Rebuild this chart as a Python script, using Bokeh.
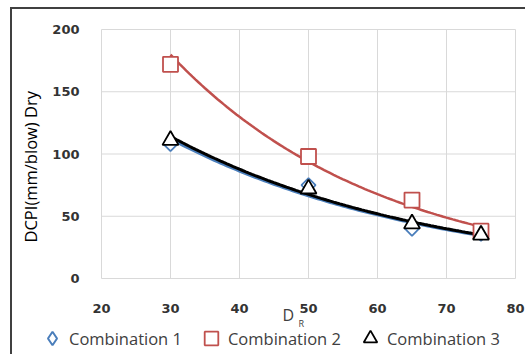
import numpy as np
from bokeh.plotting import figure
from bokeh.models import Legend, LegendItem, Label
from bokeh.core.properties import value
from bokeh.embed import file_html
from bokeh.resources import INLINE

# ---- data ----
dr = [30, 50, 65, 75]
comb1 = [108, 75, 40, 36]
comb2 = [172, 98, 63, 38]
comb3 = [111, 72, 44, 35]
x_ticks = [20, 30, 40, 50, 60, 70, 80]
y_ticks = [0, 50, 100, 150, 200]
x_tick_labels = [str(t) for t in x_ticks]
y_tick_labels = [str(t) for t in y_ticks]
series_names = ["Combination 1", "Combination 2", "Combination 3"]
x_title = "D"
x_title_sub = "R"
y_title = "DCPI(mm/blow) Dry"

BLUE = "#4a7ebb"
RED = "#c0504d"
BLACK = "#000000"
GRID = "#d9d9d9"
TXT = "#333333"

# ---- layout (pixels) ----
W, H = 515, 347            # canvas size
OX, OY = 12, 9             # canvas origin on the page (margin + border)
PL, PR, PT, PB = 101, 515, 29, 278   # plot-area edges on the page
XMIN, XMAX, YMIN, YMAX = 20, 80, 0, 200
kx = (PR - PL) / (XMAX - XMIN)
ky = (PB - PT) / (YMAX - YMIN)
x0 = XMIN - (PL - OX) / kx
x1 = XMAX + (OX + W - PR) / kx
y1 = YMAX + (PT - OY) / ky
y0 = YMIN - (OY + H - PB) / ky

def dx(px):
    return XMIN + (px - PL) / kx

def dy(py):
    return YMIN - (py - PB) / ky

p = figure(width=W, height=H, x_range=(x0, x1), y_range=(y0, y1),
           output_backend="svg", toolbar_location=None,
           x_axis_location=None, y_axis_location=None,
           min_border=0, min_border_left=0, min_border_right=0,
           min_border_top=0, min_border_bottom=0)
p.styles = {"border-left": "2px solid #404040", "border-top": "2px solid #404040",
            "margin-left": "10px", "margin-top": "7px"}
p.outline_line_color = None
p.xgrid.visible = False
p.ygrid.visible = False
p.background_fill_color = "white"
p.border_fill_color = "white"

# grid lines from tick lists
p.segment(x0=x_ticks, y0=[YMIN] * len(x_ticks), x1=x_ticks, y1=[YMAX] * len(x_ticks),
          line_color=GRID, line_width=1)
p.segment(x0=[XMIN] * len(y_ticks), y0=y_ticks, x1=[XMAX] * len(y_ticks), y1=y_ticks,
          line_color=GRID, line_width=1)

# tick labels
p.text(x=x_ticks, y=[YMIN] * len(x_ticks), text=x_tick_labels, y_offset=30,
       text_align="center", text_baseline="middle", text_font=value("DejaVu Sans"),
       text_font_style="bold", text_font_size="13px", text_color=TXT)
p.text(x=[XMIN] * len(y_ticks), y=y_ticks, text=y_tick_labels, x_offset=-22,
       text_align="right", text_baseline="middle", text_font=value("DejaVu Sans"),
       text_font_style="bold", text_font_size="13px", text_color=TXT)

# trendlines (exponential fit of each series)
def expfit(x, y):
    b, a = np.polyfit(np.array(x, float), np.log(np.array(y, float)), 1)
    xs = np.linspace(min(x), max(x), 100)
    return xs, np.exp(a + b * xs)

xs1, ys1 = expfit(dr, comb1)
xs2, ys2 = expfit(dr, comb2)
xs3, ys3 = expfit(dr, comb3)
p.line(xs1, ys1, line_color=BLUE, line_width=3.5)
p.line(xs2, ys2, line_color=RED, line_width=2.5)
p.line(xs3, ys3, line_color=BLACK, line_width=3)

r1 = p.scatter(dr, comb1, marker="square", angle=np.pi / 4, size=10,
               line_color=BLUE, line_width=1.8, fill_color="white")
r2 = p.scatter(dr, comb2, marker="square", size=15,
               line_color=RED, line_width=1.8, fill_color="white")
r3 = p.scatter(dr, comb3, marker="triangle", size=16,
               line_color=BLACK, line_width=1.8, fill_color="white")
# legend swatch for series 1 (diamond shape; not drawn in the plot: NaN position)
r1_key = p.scatter(x=[np.nan], y=[np.nan], marker="diamond", size=10,
                   line_color=BLUE, line_width=2, fill_color="white")

legend = Legend(items=[LegendItem(label=series_names[0], renderers=[r1_key]),
                       LegendItem(label=series_names[1], renderers=[r2]),
                       LegendItem(label=series_names[2], renderers=[r3])],
                orientation="horizontal", location=(23, 1),
                padding=0, margin=0, spacing=12, label_standoff=-9,
                glyph_width=34, glyph_height=34,
                label_text_font="Open Sans", label_text_font_size="16.5px",
                label_text_color="#404040", border_line_color=None,
                background_fill_alpha=0)
p.add_layout(legend, "center")

# axis titles
p.add_layout(Label(x=dx(30), y=dy(242), text=y_title,
                   angle=np.pi / 2, text_align="left", text_baseline="middle",
                   text_font="Open Sans", text_font_size="16.5px", text_color="#000000"))
p.add_layout(Label(x=dx(282), y=dy(314), text=x_title,
                   text_font="Open Sans", text_font_size="16px",
                   text_baseline="alphabetic", text_color="#404040"))
p.add_layout(Label(x=dx(298), y=dy(323), text=x_title_sub,
                   text_font="Open Sans", text_font_size="9px",
                   text_baseline="alphabetic", text_color="#404040"))

open("out.html", "w").write(file_html(p, INLINE))
